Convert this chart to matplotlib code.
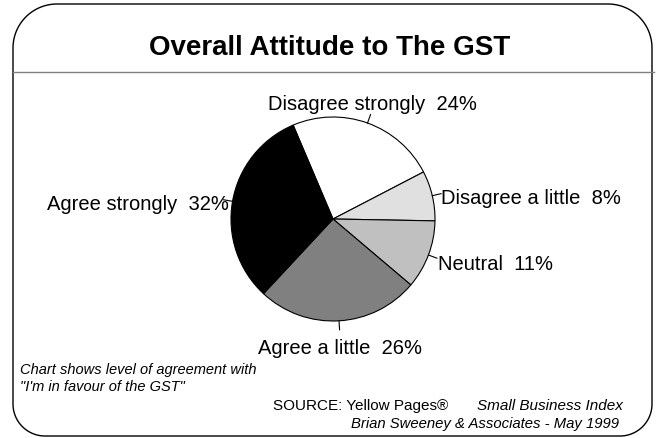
import numpy as np
import matplotlib.pyplot as plt
from matplotlib.patches import Polygon

plt.rcParams['font.family'] = ['Liberation Sans', 'DejaVu Sans']

# Datos de la encuesta
categorias = ['Disagree strongly', 'Disagree a little', 'Neutral',
              'Agree a little', 'Agree strongly']
porcentajes = [24, 8, 11, 26, 32]
colores = ['#ffffff', '#e0e0e0', '#c0c0c0', '#808080', '#000000']

W, H = 656, 439
fig = plt.figure(figsize=(W / 100, H / 100), dpi=100)
ax = fig.add_axes([0, 0, 1, 1])
ax.axis('off')


def marco_redondeado(x0, x1, y0, y1, r_sup, r_inf, n=30):
    # contorno con esquinas superiores e inferiores de distinto radio
    pts = []
    for (cxx, cyy, r, a0) in [(x1 - r_sup, y1 - r_sup, r_sup, 0),
                              (x0 + r_sup, y1 - r_sup, r_sup, 90),
                              (x0 + r_inf, y0 + r_inf, r_inf, 180),
                              (x1 - r_inf, y0 + r_inf, r_inf, 270)]:
        t = np.deg2rad(np.linspace(a0, a0 + 90, n))
        pts += list(zip(cxx + r * np.cos(t), cyy + r * np.sin(t)))
    return Polygon(pts, closed=True, fc='white', ec='black', lw=1.0)


ax.add_patch(marco_redondeado(13, 652, H - 437, H - 5, 44, 32))
ax.plot([13, 654], [H - 73, H - 73], color='#808080', lw=1.0)
ax.text(330, H - 48, 'Overall Attitude to The GST', ha='center', va='center',
        fontsize=20, fontweight='bold')

# Grafico de torta
cx, cy, r = 333, H - 220, 102
wedges, _ = ax.pie(porcentajes, colors=colores, startangle=113,
                   counterclock=False, center=(cx, cy), radius=r,
                   wedgeprops=dict(edgecolor='black', linewidth=0.8))
ax.set_xlim(0, W)
ax.set_ylim(0, H)
ax.set_aspect('equal')

# Etiquetas con lineas guia
pos_texto = {
    'Disagree strongly': (372, 105, 'center'),
    'Disagree a little': (441, 199, 'left'),
    'Neutral': (438, 265, 'left'),
    'Agree a little': (340, 349, 'center'),
    'Agree strongly': (229, 205, 'right'),
}
for w, cat, p in zip(wedges, categorias, porcentajes):
    ang = np.deg2rad((w.theta1 + w.theta2) / 2)
    x0, y0 = cx + r * np.cos(ang), cy + r * np.sin(ang)
    x1, y1 = cx + (r + 9) * np.cos(ang), cy + (r + 9) * np.sin(ang)
    ax.plot([x0, x1], [y0, y1], color='black', lw=0.8)
    tx, ty, ha = pos_texto[cat]
    ax.text(tx, H - ty, f'{cat}  {p}%', ha=ha, va='center', fontsize=14.5)

# Notas al pie
ax.text(20, H - 370, 'Chart shows level of agreement with', fontsize=10.5,
        style='italic', va='center')
ax.text(20, H - 387, '"I\'m in favour of the GST"', fontsize=10.5,
        style='italic', va='center')
ax.text(273, H - 406, 'SOURCE: Yellow Pages®', fontsize=11, va='center')
ax.text(623, H - 406, 'Small Business Index', fontsize=11, style='italic',
        va='center', ha='right')
ax.text(619, H - 424, 'Brian Sweeney & Associates - May 1999', fontsize=10.7,
        style='italic', va='center', ha='right')

fig.savefig('out.png', dpi=100)
